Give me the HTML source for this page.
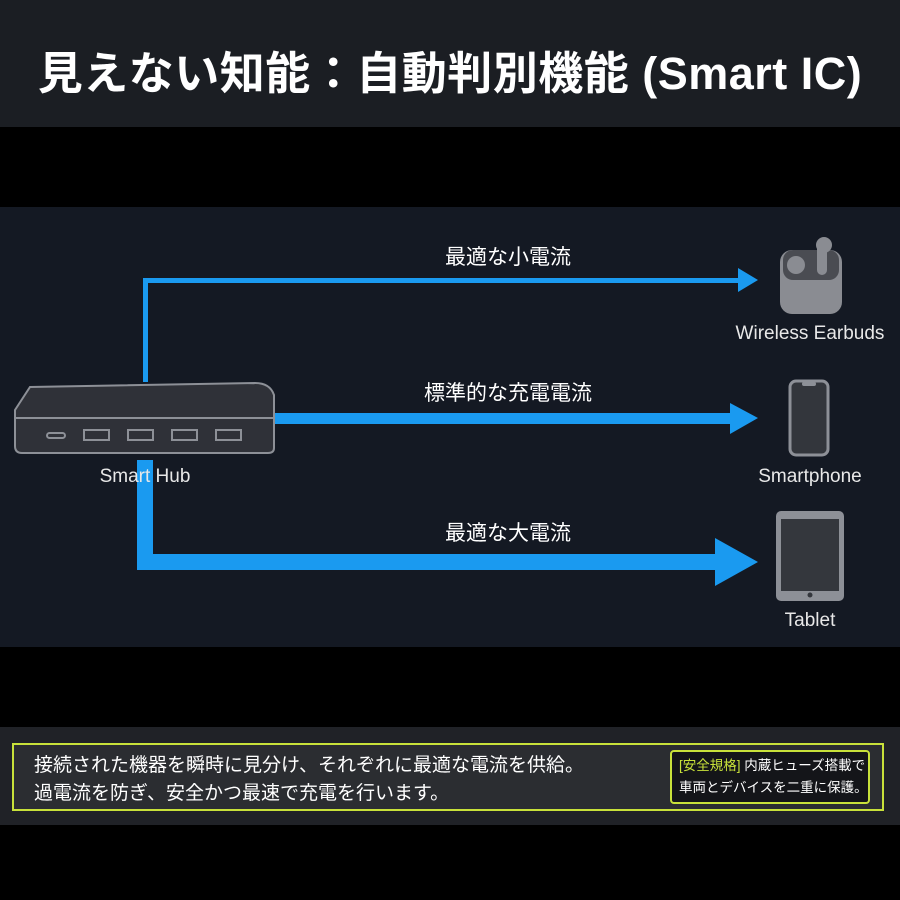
<!DOCTYPE html>
<html><head><meta charset="utf-8"><style>
body{margin:0;width:900px;height:900px;background:#000;overflow:hidden;font-family:"Liberation Sans","Noto Sans CJK JP",sans-serif;position:relative}
.t{position:absolute;left:0;top:0;width:900px;height:127px;background:#1b1e23;color:#fff;font-weight:bold;font-size:45px;text-align:center;line-height:148px;letter-spacing:0.5px}
.d{position:absolute;left:0;top:207px;width:900px;height:440px;background:#141923}
.b{position:absolute;left:0;top:727px;width:900px;height:98px;background:#202227}
.box{position:absolute;left:12px;top:743px;width:872px;height:68px;border:2px solid #c8e13a;box-sizing:border-box;background:#2b2d31}
.m{position:absolute;left:20px;top:7px;color:#fff;font-size:19px;line-height:28px}
.s{position:absolute;right:12px;top:5px;width:200px;height:54px;border:2px solid #c8e13a;box-sizing:border-box;background:#141519;border-radius:4px;color:#fff;font-size:13.5px;line-height:22px;padding:3px 0 0 7px}
</style></head><body>
<div class="t">見えない知能：自動判別機能 (Smart IC)</div>
<div class="d"></div>
<svg style="position:absolute;left:0;top:0" width="900" height="900">
<g fill="#1a9af0">
<rect x="143" y="278" width="5" height="104"/><rect x="143" y="278" width="598" height="5"/><polygon points="738,268 758,280 738,292"/>
<rect x="270" y="413" width="462" height="11"/><polygon points="730,403 758,418 730,434"/>
<rect x="137" y="460" width="16" height="110"/><rect x="137" y="554" width="582" height="16"/><polygon points="715,538 758,562 715,586"/>
</g>
<path d="M30,387 L255,383 Q270,383 274,395 L274,448 Q274,453 268,453 L22,453 Q15,453 15,446 L15,410 Z" fill="#2f3138" stroke="#8d9097" stroke-width="2"/>
<line x1="16" y1="418" x2="274" y2="418" stroke="#8d9097" stroke-width="2"/>
<g fill="none" stroke="#8d9097" stroke-width="2"><rect x="47" y="433" width="18" height="5" rx="2.5"/><rect x="84" y="430" width="25" height="10"/><rect x="128" y="430" width="25" height="10"/><rect x="172" y="430" width="25" height="10"/><rect x="216" y="430" width="25" height="10"/></g>
<text x="145" y="482" fill="#e8e8e8" font-size="19" text-anchor="middle" font-family="Liberation Sans,sans-serif">Smart Hub</text>
<g font-family="Liberation Sans,Noto Sans CJK JP,sans-serif" fill="#fff" font-size="21" text-anchor="middle"><text x="508" y="264">最適な小電流</text><text x="508" y="400">標準的な充電電流</text><text x="508" y="540">最適な大電流</text></g>
<rect x="780" y="250" width="62" height="64" rx="12" fill="#8a8c92"/>
<rect x="783" y="250" width="56" height="30" rx="10" fill="#4a4c52"/>
<circle cx="796" cy="265" r="9" fill="#8a8c92"/><rect x="817" y="240" width="10" height="35" rx="5" fill="#8a8c92"/><circle cx="824" cy="245" r="8" fill="#8a8c92"/>
<rect x="790" y="381" width="38" height="74" rx="6" fill="#33363c" stroke="#8d9097" stroke-width="3"/><rect x="802" y="382" width="14" height="4" rx="2" fill="#8d9097"/>
<rect x="776" y="511" width="68" height="90" rx="5" fill="#8d9097"/><rect x="781" y="519" width="58" height="72" fill="#34373d"/><circle cx="810" cy="595" r="2.5" fill="#34373d"/>
<g font-family="Liberation Sans,sans-serif" fill="#e8e8e8" font-size="19" text-anchor="middle"><text x="810" y="339">Wireless Earbuds</text><text x="810" y="482">Smartphone</text><text x="810" y="626">Tablet</text></g>
</svg>
<div class="b"></div>
<div class="box"><div class="m">接続された機器を瞬時に見分け、それぞれに最適な電流を供給。<br>過電流を防ぎ、安全かつ最速で充電を行います。</div>
<div class="s"><span style="color:#c8e13a">[安全規格]</span> 内蔵ヒューズ搭載で<br>車両とデバイスを二重に保護。</div></div>
</body></html>
